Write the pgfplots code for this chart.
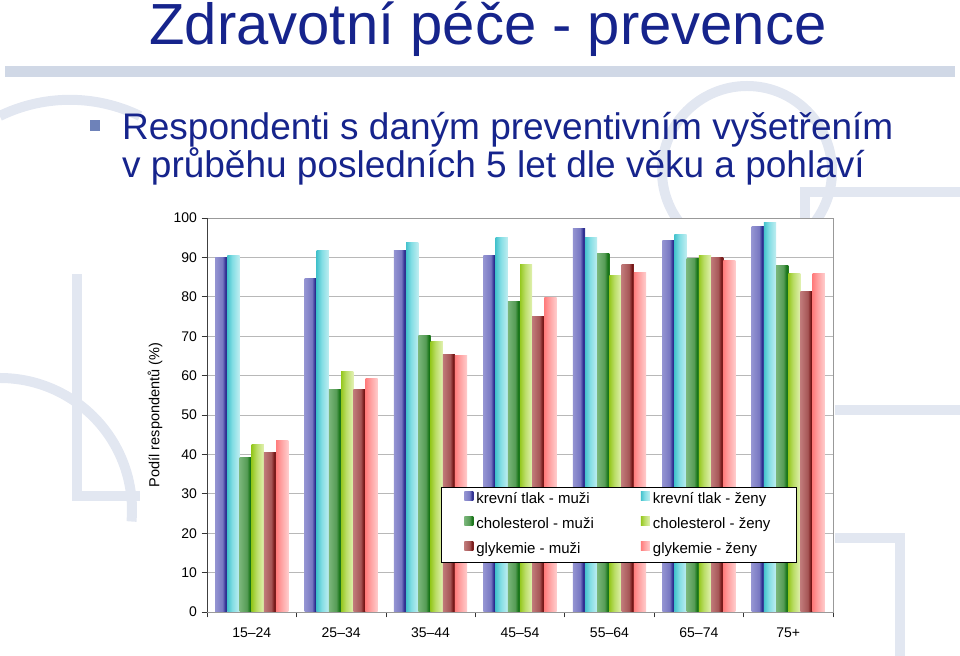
\documentclass[border=0pt]{standalone}
\usepackage{fontspec}
\setmainfont{Liberation Sans}
\usepackage{pgfplots}
\pgfplotsset{compat=1.18}

\definecolor{ttl}{RGB}{22,36,140}
\definecolor{bulletc}{RGB}{110,130,185}
\definecolor{band}{RGB}{208,216,230}
\definecolor{deco}{RGB}{226,231,241}

\definecolor{bmA}{RGB}{148,148,210}\definecolor{bmB}{RGB}{120,120,194}\definecolor{bmC}{RGB}{42,42,142}\definecolor{bmD}{RGB}{60,60,150}
\definecolor{cfA}{RGB}{70,195,205}\definecolor{cfB}{RGB}{130,221,228}\definecolor{cfC}{RGB}{192,238,241}
\definecolor{gmA}{RGB}{122,182,122}\definecolor{gmB}{RGB}{86,156,86}\definecolor{gmC}{RGB}{22,116,22}\definecolor{gmD}{RGB}{38,122,38}
\definecolor{lfA}{RGB}{150,200,32}\definecolor{lfB}{RGB}{186,221,102}\definecolor{lfC}{RGB}{226,241,178}
\definecolor{rmA}{RGB}{192,122,122}\definecolor{rmB}{RGB}{166,86,86}\definecolor{rmC}{RGB}{116,20,20}\definecolor{rmD}{RGB}{132,42,42}
\definecolor{pfA}{RGB}{255,125,125}\definecolor{pfB}{RGB}{255,160,160}\definecolor{pfC}{RGB}{255,206,206}

\pgfdeclarehorizontalshading{shBM}{100bp}{color(0bp)=(bmA); color(25bp)=(bmA); color(55bp)=(bmB); color(68bp)=(bmC); color(75bp)=(bmD); color(100bp)=(bmD)}
\pgfdeclarehorizontalshading{shCF}{100bp}{color(0bp)=(cfA); color(25bp)=(cfA); color(45bp)=(cfB); color(75bp)=(cfC); color(100bp)=(cfC)}
\pgfdeclarehorizontalshading{shGM}{100bp}{color(0bp)=(gmA); color(25bp)=(gmA); color(55bp)=(gmB); color(68bp)=(gmC); color(75bp)=(gmD); color(100bp)=(gmD)}
\pgfdeclarehorizontalshading{shLF}{100bp}{color(0bp)=(lfA); color(25bp)=(lfA); color(45bp)=(lfB); color(75bp)=(lfC); color(100bp)=(lfC)}
\pgfdeclarehorizontalshading{shRM}{100bp}{color(0bp)=(rmA); color(25bp)=(rmA); color(55bp)=(rmB); color(68bp)=(rmC); color(75bp)=(rmD); color(100bp)=(rmD)}
\pgfdeclarehorizontalshading{shPF}{100bp}{color(0bp)=(pfA); color(25bp)=(pfA); color(45bp)=(pfB); color(75bp)=(pfC); color(100bp)=(pfC)}

% one series = seven single-bar plots, so that each bar carries its own shading
\newcommand\series[9]{%
  \addplot[forget plot, shading=#1, bar shift=#2] coordinates {(0,#3)};
  \addplot[forget plot, shading=#1, bar shift=#2] coordinates {(1,#4)};
  \addplot[forget plot, shading=#1, bar shift=#2] coordinates {(2,#5)};
  \addplot[forget plot, shading=#1, bar shift=#2] coordinates {(3,#6)};
  \addplot[forget plot, shading=#1, bar shift=#2] coordinates {(4,#7)};
  \addplot[forget plot, shading=#1, bar shift=#2] coordinates {(5,#8)};
  \addplot[forget plot, shading=#1, bar shift=#2] coordinates {(6,#9)};
}

\begin{document}
\begin{tikzpicture}[x=1bp,y=1bp]
\useasboundingbox (0,0) rectangle (960,656);
% faint background decoration
\begin{scope}[draw=deco, line width=10bp]
  \draw (140,540) arc[start angle=64, end angle=116, radius=160];
  \draw (77,382) -- (77,160) -- (140,160);
  \draw (0,278) arc[start angle=90, end angle=-5, radius=132];
  \draw (747,485) circle[radius=85];
  \draw (800,464) -- (960,464);
  \draw (805,464) -- (805,430);
  \draw (835,246) -- (960,246);
  \draw (835,118) -- (900,118) -- (900,0);
\end{scope}
\fill[band] (5,579) rectangle (955,590);
\fill[bulletc] (90,525) rectangle (100,536);
\node[anchor=base, inner sep=0pt, text=ttl, font=\fontsize{58bp}{60bp}\selectfont] at (488,611) {Zdravotní péče - prevence};
\node[anchor=base west, inner sep=0pt, text=ttl, font=\fontsize{37bp}{38bp}\selectfont] at (122,516) {Respondenti s daným preventivním vyšetřením};
\node[anchor=base west, inner sep=0pt, text=ttl, font=\fontsize{37bp}{38bp}\selectfont] at (122,478) {v průběhu posledních 5 let dle věku a pohlaví};

\begin{axis}[
  at={(207bp,44bp)}, anchor=south west,
  scale only axis, width=626bp, height=394bp,
  ybar=0pt, bar width=12.2bp,
  xmin=-0.5, xmax=6.5, ymin=0, ymax=100,
  ytick={0,10,...,100},
  xtick={-0.5,0.5,...,6.5}, xticklabels={},
  extra x ticks={0,1,...,6},
  extra x tick labels={15–24,25–34,35–44,45–54,55–64,65–74,75+},
  extra x tick style={major tick length=0pt},
  xtick pos=bottom, ytick pos=left,
  tick align=outside, major tick length=5.5bp,
  tick style={black!80, line width=0.6bp},
  ymajorgrids, grid style={draw=black!28, line width=0.6bp},
  axis line style={black!40, line width=0.8bp},
  axis background/.style={fill=white},
  tick label style={font=\fontsize{14bp}{16bp}\selectfont},
  /pgf/number format/assume math mode=true,
  yticklabel style={xshift=-1bp},
  xticklabel style={yshift=-12bp},
  ylabel={Podíl respondentů (\%)},
  every axis y label/.style={at={(axis description cs:-0.0831,0.5)}, rotate=90, anchor=center, font=\fontsize{14.5bp}{16bp}\selectfont},
  legend columns=2,
  legend cell align=left,
  legend style={at={(0.3738,0.3173)}, anchor=north west, draw=black, line width=0.8bp, fill=white,
    font=\fontsize{15bp}{17bp}\selectfont, inner xsep=23bp, inner ysep=3bp, row sep=6bp,
    nodes={inner ysep=2bp, inner xsep=3bp, text height=11bp, text depth=4bp},
    /tikz/column 2/.style={column sep=44bp}},
  every axis plot/.append style={draw=none, shade,
    legend image code/.code={\path[##1, draw=none] (0bp,-0.5bp) rectangle (9bp,8bp);}},
]
\series{shBM}{-30.5bp}{89.9}{84.7}{91.8}{90.4}{97.4}{94.4}{97.8}
\series{shCF}{-18.3bp}{90.4}{91.8}{93.9}{95.1}{95.0}{95.9}{98.8}
\series{shGM}{-6.1bp}{39.3}{56.5}{70.1}{78.8}{90.9}{89.6}{87.9}
\series{shLF}{6.1bp}{42.6}{61.0}{68.7}{88.3}{85.5}{90.4}{86.0}
\series{shRM}{18.3bp}{40.4}{56.5}{65.4}{74.9}{88.2}{89.9}{81.4}
\series{shPF}{30.5bp}{43.6}{59.2}{65.0}{79.9}{86.2}{89.1}{86.0}
\addlegendimage{shading=shBM}\addlegendentry{krevní tlak - muži}
\addlegendimage{shading=shCF}\addlegendentry{krevní tlak - ženy}
\addlegendimage{shading=shGM}\addlegendentry{cholesterol - muži}
\addlegendimage{shading=shLF}\addlegendentry{cholesterol - ženy}
\addlegendimage{shading=shRM}\addlegendentry{glykemie - muži}
\addlegendimage{shading=shPF}\addlegendentry{glykemie - ženy}
\draw[black!75, line width=0.8bp] (rel axis cs:0,1) -- (rel axis cs:0,0) -- (rel axis cs:1,0);
\end{axis}
\end{tikzpicture}
\end{document}
